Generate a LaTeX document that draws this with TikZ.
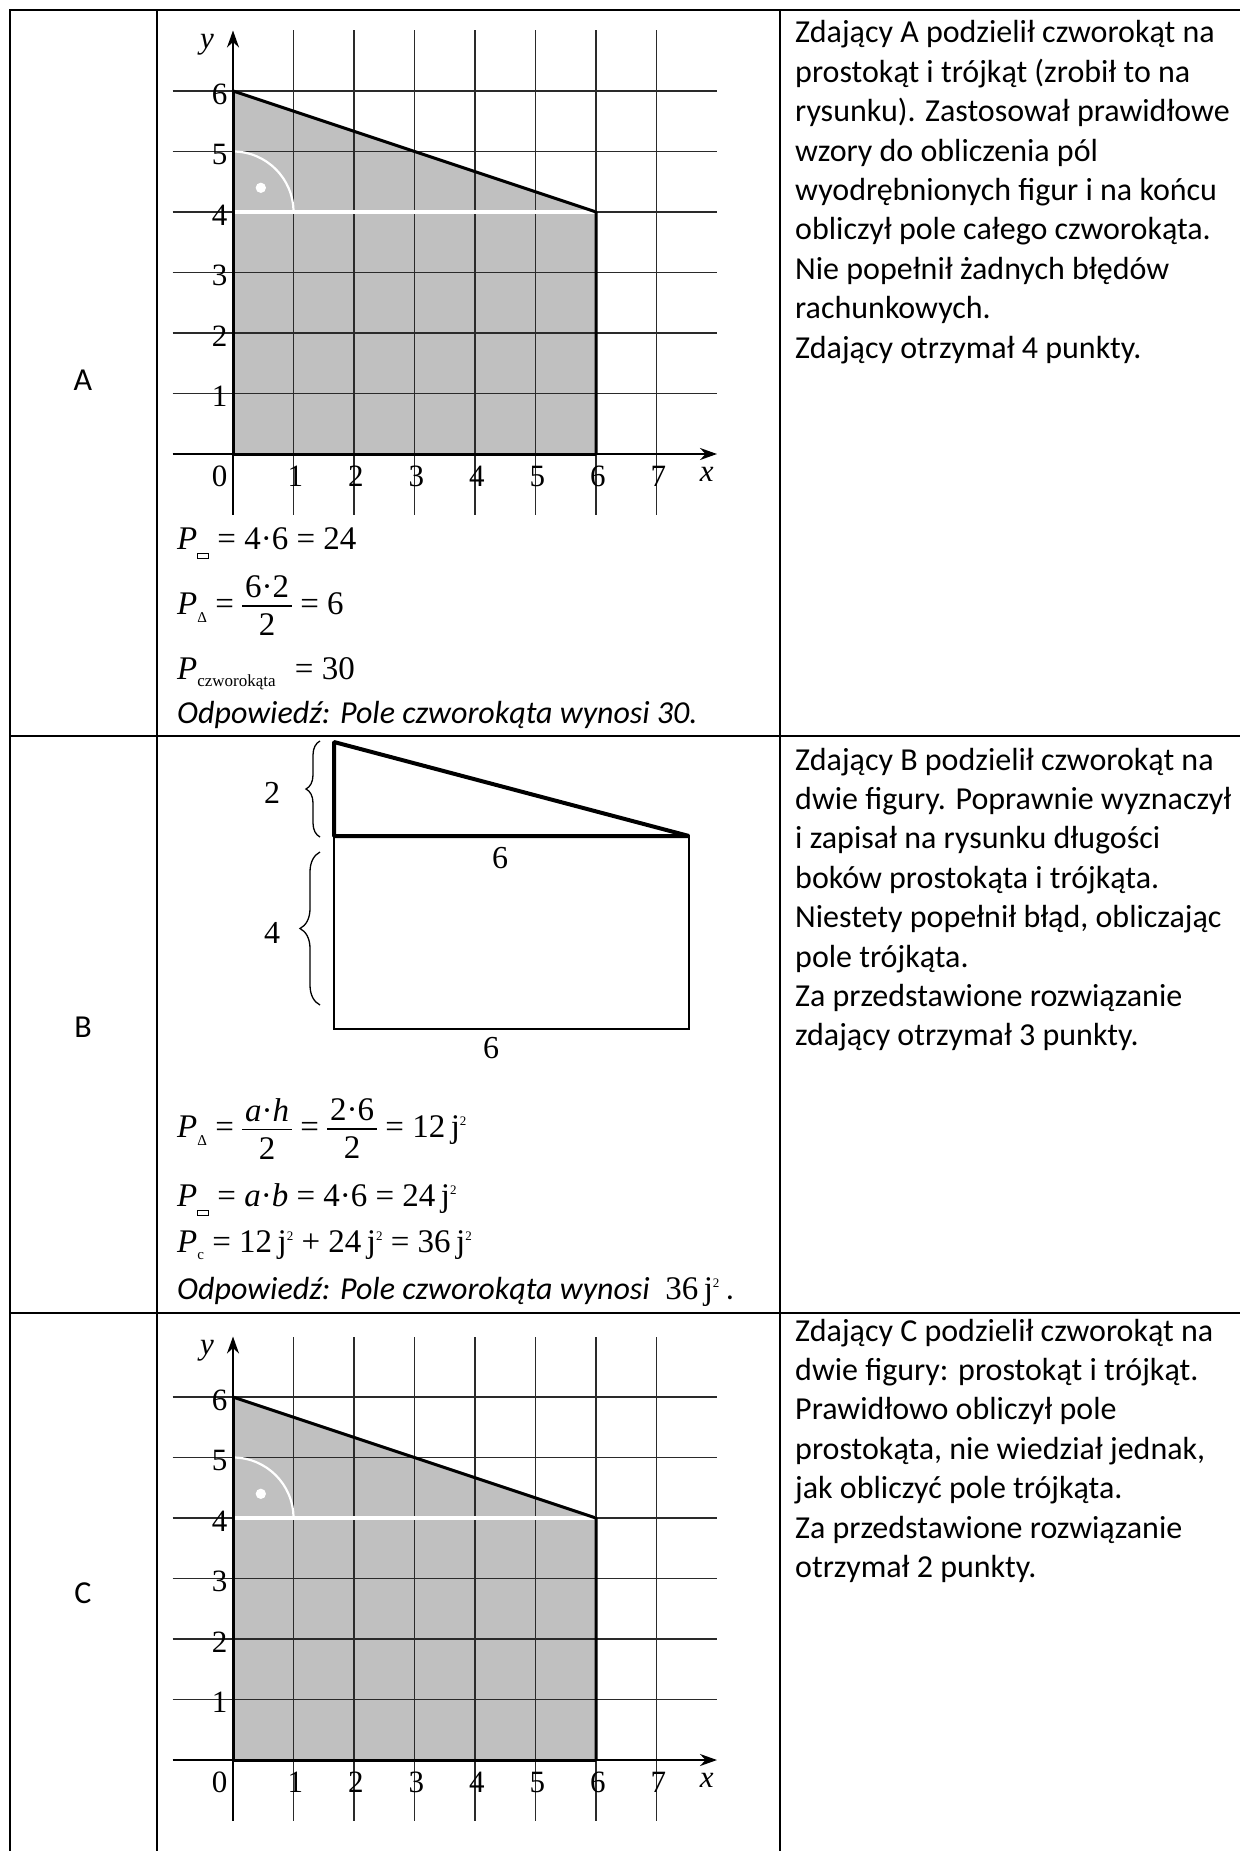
\RequirePackage{fix-cm}
\documentclass[tikz,border=0pt]{standalone}
\usepackage{fontspec}
\setmainfont{Carlito}
\newfontfamily\tnr{Liberation Serif}
\usetikzlibrary{arrows.meta,decorations.pathreplacing}
\definecolor{fillgray}{HTML}{C0C0C0}
\definecolor{gridgray}{HTML}{2A2A2A}
\tikzset{
 tableline/.style={line width=2.6pt, line cap=rect},
 gridline/.style={line width=1.3pt, draw=gridgray},
 axisline/.style={line width=2.2pt, -{Stealth[length=17pt,width=12pt]}},
 shapeborder/.style={line width=3pt, line join=bevel},
 bodytext/.style={anchor=base west, inner sep=0pt, font=\fontsize{32}{39}\selectfont},
 rowlabel/.style={inner sep=0pt, font=\fontsize{32}{39}\selectfont},
 chartlbl/.style={inner sep=0pt, font=\tnr\fontsize{31}{32}\selectfont},
 figlbl/.style={inner sep=0pt, font=\tnr\fontsize{32}{33}\selectfont},
 formula/.style={anchor=base west, inner sep=0pt, font=\tnr\fontsize{33}{36}\selectfont},
 answer/.style={anchor=base west, inner sep=0pt, font=\itshape\fontsize{32}{39}\selectfont},
}
\newcommand{\Psq}{\textit{P}\raisebox{-9pt}{\setlength{\fboxsep}{0pt}\setlength{\fboxrule}{0.9pt}\fbox{\rule{0pt}{4.5pt}\rule{10pt}{0pt}}}}
\newcommand{\Ptri}{\textit{P}\raisebox{-8pt}{\fontsize{15}{15}\selectfont Δ}}
\newcommand{\myfrac}[2]{\ensuremath{\vcenter{\halign{\hfil\kern3pt##\kern3pt\hfil\cr #1\cr\noalign{\kern7pt\hrule height 1.6pt\kern7pt}#2\cr}}}}
\newcommand{\jj}{\,j\raisebox{12pt}{\fontsize{13}{13}\selectfont 2}}
\newcommand{\drawchart}[3]{%
\begin{scope}[xshift=#1pt, yshift=-#2pt, x=60.5pt, y=60.5pt]
  \fill[fillgray] (0,0) -- (6,0) -- (6,4) -- (0,6) -- cycle;
  \foreach \i in {1,...,7} \draw[gridline] (\i,-1) -- (\i,7);
  \foreach \j in {1,...,6} \draw[gridline] (-1,\j) -- (8,\j);
  \draw[white, line width=3.5pt] (0,4) -- (6,4);
  \draw[white, line width=2.2pt] (1,4) arc[start angle=0, end angle=90, radius=1];
  \fill[white] (0.46,4.4) circle[radius=0.085];
  \draw[shapeborder] (0,6) -- (6,4) -- (6,0);
  \draw[axisline] (-1,0) -- (8,0);
  \draw[axisline] (0,-1) -- (0,7);
  \draw[shapeborder] (0,6) -- (0,0) -- (6,0);
  \foreach \j in {1,...,6} \node[chartlbl] (#3y\j) at (-0.22,\j-0.05) {\j};
  \foreach \i in {1,...,7} \node[chartlbl] (#3x\i) at (\i+0.03,-0.37) {\i};
  \node[chartlbl] (#3o) at (-0.22,-0.37) {0};
  \node[chartlbl] (#3xl) at (7.83,-0.33) {\itshape x};
  \node[chartlbl] (#3yl) at (-0.43,6.76) {\itshape y};
\end{scope}}
\begin{document}
\begin{tikzpicture}[x=1pt,y=-1pt]
\useasboundingbox (0,0) rectangle (1239,1851);
% table rules
\draw[tableline] (10,10) -- (1239,10);
\draw[tableline] (10,10) -- (10,1851);
\draw[tableline] (157,10) -- (157,1851);
\draw[tableline] (780,10) -- (780,1851);
\draw[tableline] (10,736) -- (1239,736);
\draw[tableline] (10,1313) -- (1239,1313);
% row labels
\node[rowlabel] (la) at (83,380) {A};
\node[rowlabel] (lb) at (83,1027) {B};
\node[rowlabel] (lc) at (83,1593) {C};
% charts
\drawchart{233}{454}{ca}
\drawchart{233}{1760}{cc}
% row A formulas
\node[formula] (fa1) at (177,549) {\Psq{} = 4·6 = 24};
\node[formula] (fa2) at (177,614) {\Ptri{} = \myfrac{6·2}{2} = 6};
\node[formula] (fa3) at (177,679) {\textit{P}\raisebox{-7pt}{\fontsize{17}{17}\selectfont czworokąta}\,\, = 30};
\node[answer] (fa4) at (177,723) {Odpowiedź: Pole czworokąta wynosi 30.};
% row B figure
\draw[line width=2.2pt] (334,836) rectangle (689,1029);
\draw[line width=4pt, line join=bevel] (334,836) -- (334,742) -- (689,836) -- cycle;
\draw[decorate, decoration={brace, amplitude=14pt}, line width=1.3pt] (320,837) -- (320,741);
\draw[decorate, decoration={brace, amplitude=20pt}, line width=1.3pt] (320,1005) -- (320,852);
\node[figlbl] (b2) at (272,793) {2};
\node[figlbl] (b4) at (272,933) {4};
\node[figlbl] (b6a) at (500,858) {6};
\node[figlbl] (b6b) at (491,1048) {6};
% row B formulas
\node[formula] (fb1) at (177,1137) {\Ptri{} = \myfrac{\textit{a}·\textit{h}}{2} = \myfrac{2·6}{2} = 12\jj};
\node[formula] (fb2) at (177,1206) {\Psq{} = \textit{a}·\textit{b} = 4·6 = 24\jj};
\node[formula] (fb3) at (177,1252) {\textit{P}\raisebox{-7pt}{\fontsize{15}{15}\selectfont c} = 12\jj{} + 24\jj{} = 36\jj};
\node[answer] (fb4) at (177,1299) {Odpowiedź: Pole czworokąta wynosi {\upshape\tnr\fontsize{33}{36}\selectfont\ 36\jj} .};
% right column texts
\foreach \t [count=\i] in {Zdający A podzielił czworokąt na, prostokąt i trójkąt (zrobił to na, rysunku). Zastosował prawidłowe, wzory do obliczenia pól, wyodrębnionych figur i na końcu, obliczył pole całego czworokąta., Nie popełnił żadnych błędów, rachunkowych., Zdający otrzymał 4 punkty.}
  \node[bodytext] (ta\i) at (795,43+39.4*\i-39.4) {\t};
\foreach \t [count=\i] in {Zdający B podzielił czworokąt na, dwie figury. Poprawnie wyznaczył, i zapisał na rysunku długości, boków prostokąta i trójkąta., {Niestety popełnił błąd, obliczając}, pole trójkąta., Za przedstawione rozwiązanie, zdający otrzymał 3 punkty.}
  \node[bodytext] (tb\i) at (795,770+39.4*\i-39.4) {\t};
\foreach \t [count=\i] in {Zdający C podzielił czworokąt na, dwie figury: prostokąt i trójkąt., Prawidłowo obliczył pole, {prostokąta, nie wiedział jednak,}, jak obliczyć pole trójkąta., Za przedstawione rozwiązanie, otrzymał 2 punkty.}
  \node[bodytext] (tc\i) at (795,1341+39.4*\i-39.4) {\t};
\end{tikzpicture}
\end{document}
